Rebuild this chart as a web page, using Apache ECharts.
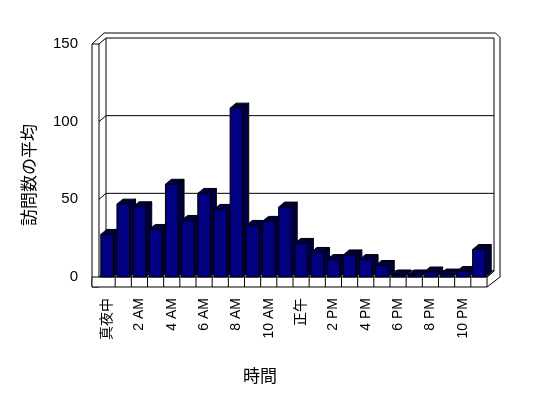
<!DOCTYPE html>
<html>
<head>
<meta charset="utf-8">
<script src="https://cdn.jsdelivr.net/npm/echarts@6/dist/echarts.min.js"></script>
<style>
html,body{margin:0;padding:0;background:#fff;}
#chart{width:548px;height:398px;}
</style>
</head>
<body>
<div id="chart"></div>
<script>
// ---- data ----
const categories = ['真夜中','1 AM','2 AM','3 AM','4 AM','5 AM','6 AM','7 AM','8 AM','9 AM','10 AM','11 AM',
                    '正午','1 PM','2 PM','3 PM','4 PM','5 PM','6 PM','7 PM','8 PM','9 PM','10 PM','11 PM'];
const values = [27.4, 46.9, 45.2, 30.6, 59.7, 36.4, 53.8, 43.5, 108.7, 33.2, 35.8, 45.0,
                21.6, 15.8, 11.2, 14.2, 11.2, 7.4, 1.3, 1.3, 3.2, 1.9, 3.5, 17.7];
const yTicks = [0, 50, 100, 150];
const xTitle = '時間';
const yTitle = '訪問数の平均';

// ---- styles ----
const FONT = '"Liberation Sans", "Noto Sans CJK JP", sans-serif';
const FRONT = '#000080';
const DX = 7, DY = -6;      // wall depth
const T = 7;                // left wall thickness
const FL = 10;              // floor thickness
const BDX = 6, BDY = -5;    // bar depth

function makePattern(){
  const c = document.createElement('canvas');
  c.width = 2; c.height = 2;
  const g = c.getContext('2d');
  g.fillStyle = '#000000'; g.fillRect(0,0,2,2);
  g.fillStyle = FRONT; g.fillRect(0,0,1,1); g.fillRect(1,1,1,1);
  return {image: c, repeat: 'repeat'};
}
const SIDE = makePattern();

const chart = echarts.init(document.getElementById('chart'), null, {renderer:'canvas'});
const L = {stroke:'#000', lineWidth:1, fill:null};

function renderFrame(params, api){
  const n = categories.length;
  const bw = api.size([1,0])[0];
  const x0 = api.coord([0,0])[0] - bw/2;
  const x1 = api.coord([n-1,0])[0] + bw/2;
  const y0 = api.coord([0,0])[1];
  const yt = api.coord([0,yTicks[yTicks.length-1]])[1];
  const ch = [];
  ch.push({type:'polygon', shape:{points:[[x0+DX,yt+DY],[x1+DX,yt+DY],[x1+DX,y0+DY],[x0+DX,y0+DY]]},
           style:{fill:'#fff', stroke:'#000', lineWidth:1}});
  ch.push({type:'polygon', shape:{points:[[x0,y0],[x1,y0],[x1+DX,y0+DY],[x0+DX,y0+DY]]},
           style:{fill:'#fff', stroke:'#000', lineWidth:1}});
  yTicks.forEach(function(t){
    const y = api.coord([0,t])[1];
    if (t !== 0 && t !== yTicks[yTicks.length-1]) {
      ch.push({type:'polyline', shape:{points:[[x0-T,y],[x0,y],[x0+DX,y+DY],[x1+DX,y+DY]]}, style:L});
    }
  });
  ch.push({type:'rect', shape:{x:x0-T, y:yt, width:T, height:y0+FL-yt}, style:{fill:'#fff', stroke:'#000', lineWidth:1}});
  ch.push({type:'line', shape:{x1:x0, y1:yt, x2:x0+DX, y2:yt+DY}, style:L});
  ch.push({type:'polyline', shape:{points:[[x0-T,yt],[x0-T+12,yt-11],[x1+DX+1.5,yt-11],[x1+DX+6,yt-6.5],[x1+DX+6,y0],[x1,y0+FL]]}, style:L});
  ch.push({type:'line', shape:{x1:x1+DX, y1:y0+DY, x2:x1, y2:y0}, style:L});
  ch.push({type:'rect', shape:{x:x0-T, y:y0, width:x1-x0+T, height:FL}, style:{fill:'#fff', stroke:'#000', lineWidth:1}});
  for (let k = 1; k < n; k++){
    const x = x0 + k*bw;
    ch.push({type:'line', shape:{x1:x, y1:y0, x2:x, y2:y0+FL}, style:L});
  }
  return {type:'group', children:ch};
}

function renderBar(params, api){
  const i = api.value(0), v = api.value(1);
  const base = api.coord([i,0]);
  const top = api.coord([i,v]);
  const bw = api.size([1,0])[0];
  const w = bw*0.78;
  const xl = base[0]-w/2, xr = base[0]+w/2;
  const yb = base[1], yt = top[1];
  return {type:'group', children:[
    {type:'polygon', shape:{points:[[xr,yt],[xr+BDX,yt+BDY],[xr+BDX,yb+BDY],[xr,yb]]}, style:{fill:SIDE, stroke:'#000', lineWidth:1}},
    {type:'polygon', shape:{points:[[xl,yt],[xl+BDX,yt+BDY],[xr+BDX,yt+BDY],[xr,yt]]}, style:{fill:SIDE, stroke:'#000', lineWidth:1}},
    {type:'rect', shape:{x:xl, y:yt, width:w, height:yb-yt}, style:{fill:FRONT, stroke:'#000', lineWidth:1}}
  ]};
}

chart.setOption({
  animation:false,
  backgroundColor:'#fff',
  grid:{left:99, right:61, top:44, bottom:121},
  xAxis:{type:'category', data:categories, axisLine:{show:false}, axisTick:{show:false}, splitLine:{show:false},
         axisLabel:{interval:1, rotate:90, margin:21, fontSize:14, color:'#000', fontFamily:FONT}},
  yAxis:{type:'value', min:0, max:150, interval:50, axisLine:{show:false}, axisTick:{show:false}, splitLine:{show:false},
         axisLabel:{margin:21, fontSize:15, color:'#000', fontFamily:FONT}},
  graphic:[
    {type:'text', left:243, top:369, style:{text:xTitle, fontSize:17, fill:'#000', fontFamily:FONT}},
    {type:'text', x:22, y:175, rotation:Math.PI/2, style:{text:yTitle, fontSize:17, fill:'#000', fontFamily:FONT, align:'center', verticalAlign:'top'}}
  ],
  series:[
    {type:'custom', renderItem:renderFrame, data:[[0,0]], z:1, silent:true, clip:false},
    {type:'custom', renderItem:renderBar, data:values.map(function(v,i){return [i,v];}), z:2, clip:false}
  ]
});
</script>
</body>
</html>
